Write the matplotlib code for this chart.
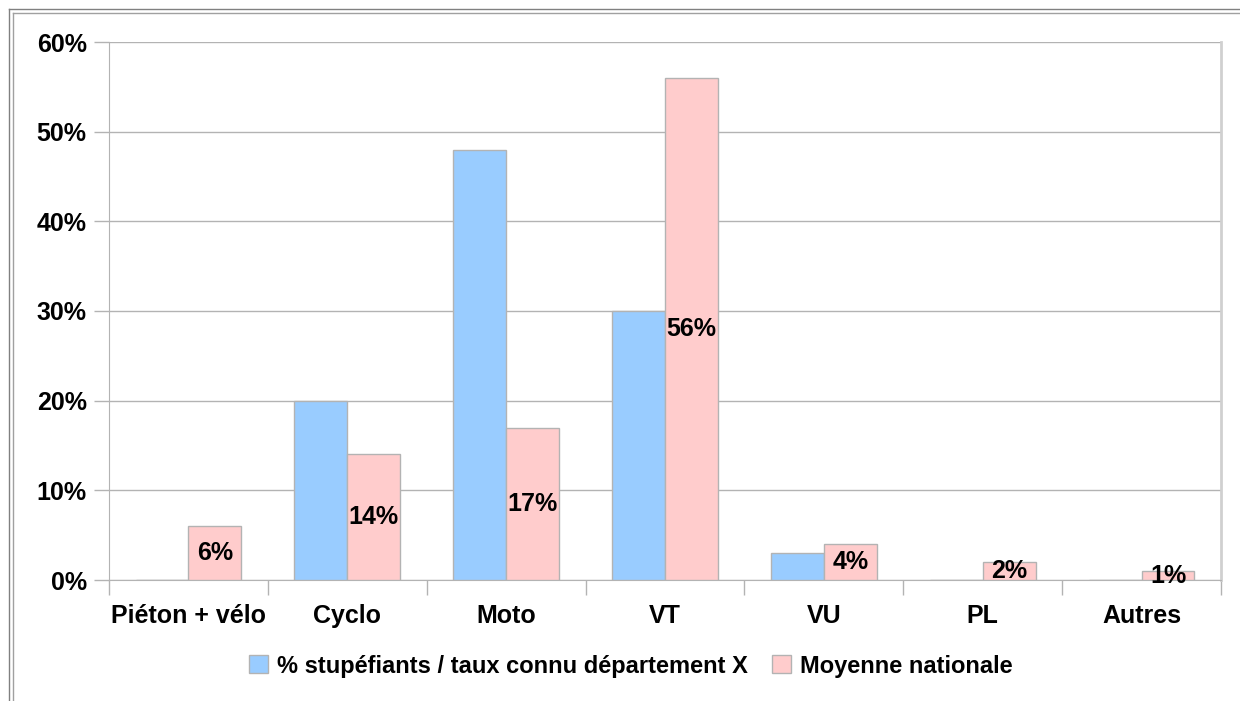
import matplotlib.pyplot as plt
import numpy as np
from matplotlib.lines import Line2D
from matplotlib.ticker import PercentFormatter

plt.rcParams['font.family'] = ['Liberation Sans', 'DejaVu Sans']
plt.rcParams['font.weight'] = 'bold'

categories = ['Piéton + vélo', 'Cyclo', 'Moto', 'VT', 'VU', 'PL', 'Autres']
dept_x = [0, 20, 48, 30, 3, 0, 0]        # % stupéfiants, département X
national = [6, 14, 17, 56, 4, 2, 1]      # moyenne nationale
series_names = ['% stupéfiants / taux connu département X', 'Moyenne nationale']

blue = '#99ccff'
pink = '#ffcccc'
edge = '#b3b3b3'

fig = plt.figure(figsize=(12.4, 7.01), dpi=100)
ax = fig.add_axes([109 / 1240, 1 - 580 / 701, 1112 / 1240, 538 / 701])

x = np.arange(len(categories))
w = 0.333
b1 = ax.bar(x - w / 2, dept_x, w, color=blue, edgecolor=edge, linewidth=1, zorder=3,
            label=series_names[0])
b2 = ax.bar(x + w / 2, national, w, color=pink, edgecolor=edge, linewidth=1, zorder=3,
            label=series_names[1])

# labels sit in the middle of each national bar
for xi, v in zip(x, national):
    ax.text(xi + w / 2, v / 2, f'{v}%', ha='center', va='center',
            fontsize=18, fontweight='bold', zorder=4)

ax.set_xlim(-0.5, len(categories) - 0.5)
ax.set_ylim(0, 60)
ax.set_yticks(range(0, 61, 10))
ax.yaxis.set_major_formatter(PercentFormatter(decimals=0))
ax.grid(axis='y', color='#b3b3b3', linewidth=1, zorder=0)

ax.set_xticks(x)
ax.set_xticklabels(categories)
ax.set_xticks(np.arange(-0.5, len(categories)), minor=True)
ax.tick_params(axis='x', which='major', length=0, pad=17, labelsize=18)
ax.tick_params(axis='x', which='minor', length=11, width=1, color='#b3b3b3')
ax.tick_params(axis='y', length=11, width=1, color='#b3b3b3', pad=5, labelsize=18)

ax.spines['top'].set_visible(False)
ax.spines['left'].set_color('#b3b3b3')
ax.spines['bottom'].set_color('#b3b3b3')
ax.spines['right'].set_color('#d0d0d0')
ax.spines['right'].set_linewidth(2)

fig.legend(handles=[b1, b2], loc='center', bbox_to_anchor=(631 / 1240, 1 - 666 / 701),
           ncol=2, frameon=False, fontsize=17, handlelength=0.8, handleheight=0.8,
           handletextpad=0.4, columnspacing=1.0)

# double frame along the top and left edges
for off, col in [(9, '#808080'), (12.5, '#a0a0a0')]:
    fig.add_artist(Line2D([off / 1240, 1], [1 - off / 701, 1 - off / 701],
                          color=col, linewidth=1, transform=fig.transFigure))
    fig.add_artist(Line2D([off / 1240, off / 1240], [0, 1 - off / 701],
                          color=col, linewidth=1, transform=fig.transFigure))

fig.savefig('out.png', dpi=100)
